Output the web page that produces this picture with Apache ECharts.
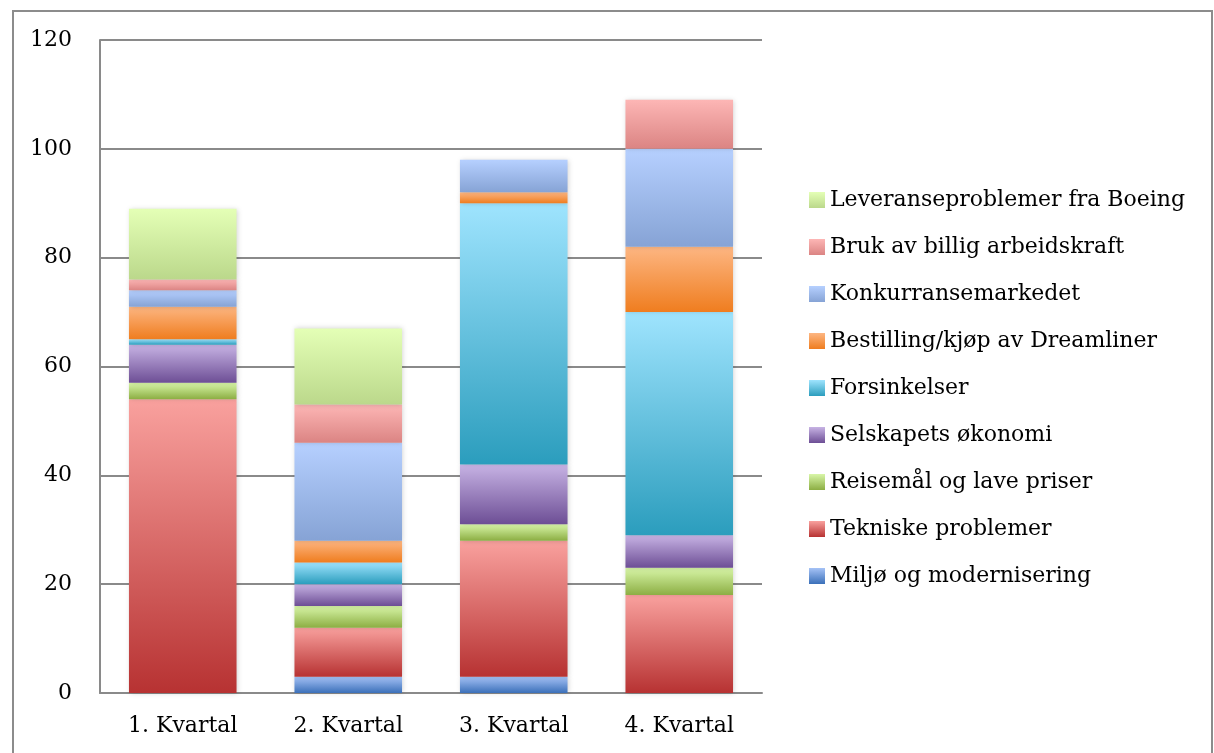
<!DOCTYPE html>
<html>
<head>
<meta charset="utf-8">
<script src="https://cdn.jsdelivr.net/npm/echarts@6/dist/echarts.min.js"></script>
<style>
  html, body { margin: 0; padding: 0; background: #fff; }
  #frame {
    position: absolute; left: 12px; top: 10px; width: 1201px; height: 760px;
    border: 2px solid #8c8c8c; box-sizing: border-box;
  }
  #chart { position: absolute; left: 0; top: 0; width: 1214px; height: 753px; }
</style>
</head>
<body>
<div id="frame"></div>
<div id="chart"></div>
<script>
const categories = ['1. Kvartal', '2. Kvartal', '3. Kvartal', '4. Kvartal']
const seriesNames = [
  'Miljø og modernisering',
  'Tekniske problemer',
  'Reisemål og lave priser',
  'Selskapets økonomi',
  'Forsinkelser',
  'Bestilling/kjøp av Dreamliner',
  'Konkurransemarkedet',
  'Bruk av billig arbeidskraft',
  'Leveranseproblemer fra Boeing'
]
const miljo = [0, 3, 3, 0]
const tekniske = [54, 9, 25, 18]
const reisemal = [3, 4, 3, 5]
const selskapets = [7, 4, 11, 6]
const forsinkelser = [1, 4, 48, 41]
const bestilling = [6, 4, 2, 12]
const konkurranse = [3, 18, 6, 18]
const bruk = [2, 7, 0, 9]
const leveranse = [13, 14, 0, 0]
const yTicks = [0, 20, 40, 60, 80, 100, 120]

const values = [miljo, tekniske, reisemal, selskapets, forsinkelser, bestilling, konkurranse, bruk, leveranse]

// topp (lys) -> bunn (mørk)
const gradients = [
  ['#a5c2f6', '#3b70b9'],
  ['#f9a19e', '#b73232'],
  ['#d8f6a8', '#8cae43'],
  ['#c7b3e4', '#6d4e95'],
  ['#9fe4fe', '#2b9dbd'],
  ['#fdb682', '#ef7d1f'],
  ['#b6d0ff', '#86a3d5'],
  ['#fdb6b5', '#db8483'],
  ['#e4ffb6', '#bbd88b']
]

const font = 'DejaVu Serif'

const chart = echarts.init(document.getElementById('chart'))

const series = seriesNames.map((name, i) => ({
  name: name,
  type: 'bar',
  stack: 'total',
  barWidth: '65%',
  data: values[i],
  itemStyle: {
    color: new echarts.graphic.LinearGradient(0, 0, 0, 1, [
      { offset: 0, color: gradients[i][0] },
      { offset: 1, color: gradients[i][1] }
    ]),
    shadowBlur: 5,
    shadowColor: 'rgba(0,0,0,0.18)',
    shadowOffsetX: 1
  },
  emphasis: { disabled: true }
}))

chart.setOption({
  animation: false,
  backgroundColor: 'transparent',
  grid: { left: 100, right: 452, top: 40, bottom: 60 },
  legend: {
    orient: 'vertical',
    left: 804,
    top: 183,
    data: seriesNames.slice().reverse(),
    itemWidth: 16,
    itemHeight: 16,
    itemGap: 23,
    icon: 'rect',
    textStyle: { fontFamily: font, fontSize: 22, color: '#000', lineHeight: 24 }
  },
  xAxis: {
    type: 'category',
    data: categories,
    axisTick: { show: false },
    axisLine: { lineStyle: { color: '#8a8a8a', width: 2 } },
    axisLabel: { fontFamily: font, fontSize: 22, color: '#000', margin: 22 }
  },
  yAxis: {
    type: 'value',
    min: yTicks[0],
    max: yTicks[yTicks.length - 1],
    interval: 20,
    axisTick: { show: false },
    axisLine: { show: true, lineStyle: { color: '#8a8a8a', width: 2 } },
    splitLine: { lineStyle: { color: '#8a8a8a', width: 2 } },
    axisLabel: { fontFamily: font, fontSize: 22, color: '#000', margin: 28 }
  },
  series: series
})
</script>
</body>
</html>
